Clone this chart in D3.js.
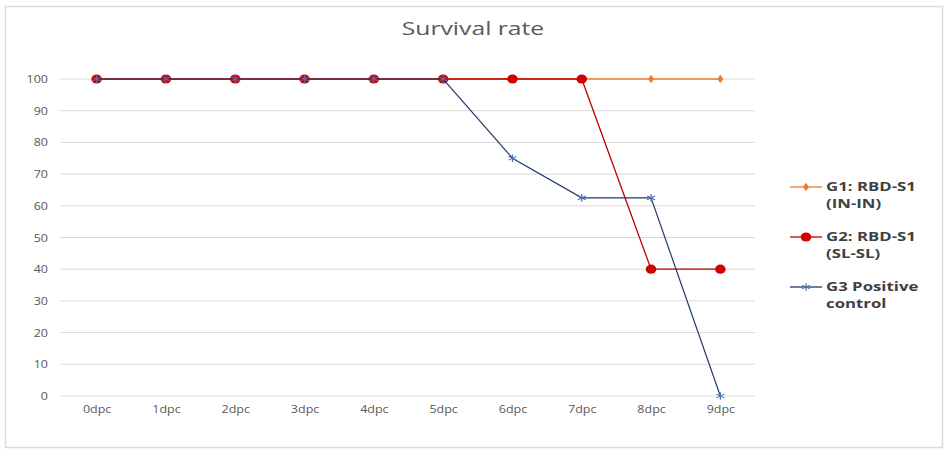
<!DOCTYPE html>
<html><head><meta charset="utf-8">
<script src="https://cdn.jsdelivr.net/npm/d3@7"></script>
<style>body{margin:0;background:#fff}svg{display:block}text{font-family:"Open Sans","Liberation Sans",sans-serif}</style>
</head><body>
<svg id="c" width="950" height="458"></svg>
<script>
const categories = ["0dpc","1dpc","2dpc","3dpc","4dpc","5dpc","6dpc","7dpc","8dpc","9dpc"];
const g1 = [100,100,100,100,100,100,100,100,100,100];
const g2 = [100,100,100,100,100,100,100,100,40,40];
const g3 = [100,100,100,100,100,100,75,62.5,62.5,0];
const yTicks = [0,10,20,30,40,50,60,70,80,90,100];
const seriesNames = [["G1: RBD-S1","(IN-IN)"],["G2: RBD-S1","(SL-SL)"],["G3 Positive","control"]];

const svg = d3.select("#c");
svg.append("rect").attr("x",5.5).attr("y",6.5).attr("width",937).attr("height",441)
  .attr("fill","#fff").attr("stroke","#d9d9d9").attr("stroke-width",1.5);

const x = d3.scalePoint().domain(categories).range([62,755]).padding(0.5);
const y = d3.scaleLinear().domain([0,100]).range([396,79]);

// horizontally stretched text helper
function sText(g, tx, ty, str, size, sx, anchor, opts={}){
  const t = g.append("text").attr("transform",`translate(${tx},${ty}) scale(${sx},1)`)
    .attr("text-anchor",anchor||"start").attr("font-size",size).attr("fill",opts.fill||"#595959")
    .attr("font-weight",opts.weight||"normal").text(str);
  return t;
}

sText(svg, 473, 35, "Survival rate", 19, 1.3, "middle");

const grid = svg.append("g");
grid.selectAll("line").data(yTicks).join("line")
  .attr("x1",60).attr("x2",755).attr("y1",d=>y(d)).attr("y2",d=>y(d))
  .attr("stroke","#d9d9d9").attr("stroke-width",1);

const yAxis = svg.append("g").attr("transform","translate(48,0)")
  .call(d3.axisLeft(y).tickValues(yTicks).tickSize(0).tickPadding(0));
yAxis.select(".domain").remove();
yAxis.selectAll("text").attr("font-size",10).attr("fill","#595959")
  .attr("transform","scale(1.25,1)").attr("x",0);
yAxis.selectAll(".tick text").attr("dy","0.35em");

const xAxis = svg.append("g").attr("transform","translate(0,396)")
  .call(d3.axisBottom(x).tickSize(0).tickPadding(10));
xAxis.select(".domain").remove();
xAxis.selectAll("text").attr("font-size",10).attr("fill","#595959")
  .attr("transform","scale(1.25,1)");

const line = d3.line().x((d,i)=>x(categories[i])).y(d=>y(d));

const c1 = "#ED7D31", c2 = "#C00000", c2m = "#D20000", c3 = "#22396B", c3m = "#4A6FB5";

// G1
svg.append("path").datum(g1).attr("d",line).attr("fill","none").attr("stroke",c1).attr("stroke-width",1.3);
svg.append("g").selectAll("path").data(g1).join("path")
  .attr("d",d3.symbol(d3.symbolDiamond,22))
  .attr("transform",(d,i)=>`translate(${x(categories[i])},${y(d)}) scale(1.2,1)`).attr("fill",c1);
// G2
svg.append("path").datum(g2).attr("d",line).attr("fill","none").attr("stroke",c2).attr("stroke-width",1.3);
svg.append("g").selectAll("ellipse").data(g2).join("ellipse")
  .attr("cx",(d,i)=>x(categories[i])).attr("cy",d=>y(d)).attr("rx",5.3).attr("ry",4.6).attr("fill",c2m);
// G3
svg.append("path").datum(g3).attr("d",line).attr("fill","none").attr("stroke",c3).attr("stroke-width",1.2);
svg.append("g").selectAll("path").data(g3).join("path")
  .attr("d",d3.symbol(d3.symbolAsterisk,40))
  .attr("transform",(d,i)=>`translate(${x(categories[i])},${y(d)}) scale(1.2,1)`)
  .attr("fill","none").attr("stroke",c3m).attr("stroke-width",1);

// Legend
const lg = svg.append("g");
const legY = [187,237,287];
const legC = [c1,c2,c3];
seriesNames.forEach((nm,k)=>{
  const yy = legY[k];
  lg.append("line").attr("x1",790).attr("x2",822).attr("y1",yy).attr("y2",yy)
    .attr("stroke",legC[k]).attr("stroke-width",1.3);
  if(k===0) lg.append("path").attr("d",d3.symbol(d3.symbolDiamond,22)).attr("transform",`translate(806,${yy}) scale(1.2,1)`).attr("fill",c1);
  if(k===1) lg.append("ellipse").attr("cx",806).attr("cy",yy).attr("rx",5.3).attr("ry",4.6).attr("fill",c2m);
  if(k===2) lg.append("path").attr("d",d3.symbol(d3.symbolAsterisk,40)).attr("transform",`translate(806,${yy}) scale(1.2,1)`).attr("fill","none").attr("stroke",c3m);
  sText(lg, 826, yy+4, nm[0], 12, 1.4, "start", {weight:"bold", fill:"#404040"});
  sText(lg, 826, yy+21, nm[1], 12, 1.4, "start", {weight:"bold", fill:"#404040"});
});
</script>
</body></html>
